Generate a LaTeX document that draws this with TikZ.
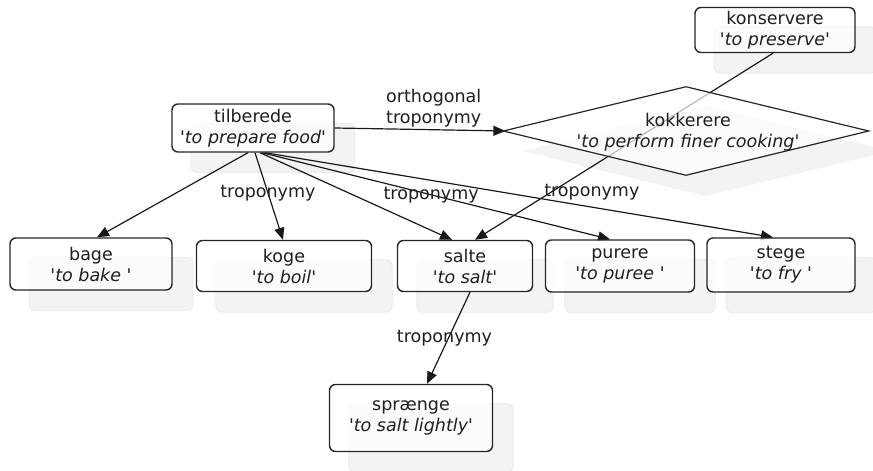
\documentclass[tikz,border=0pt]{standalone}
\usepackage{fontspec}
\setmainfont{DejaVu Sans}[Ligatures=TeXOff]
\usetikzlibrary{arrows.meta,shapes.geometric,calc}
\pgfdeclarelayer{shadowlayer}
\pgfdeclarelayer{edgelayer}
\pgfsetlayers{shadowlayer,edgelayer,main}
\definecolor{ink}{HTML}{1E1E1E}
\definecolor{shadowgrey}{HTML}{F3F3F3}
\definecolor{shadowedge}{HTML}{E8E8E8}
\begin{document}
\begin{tikzpicture}[x=1pt,y=-1pt,
  font=\fontsize{17.5}{21}\selectfont, text=ink,
  verb/.style={draw=black!85, line width=1.4pt, rounded corners=6pt,
    fill=white, fill opacity=0.75, text opacity=1, align=center, inner sep=0pt},
  rel/.style={draw=black!90, line width=1.2pt, -{Triangle[length=12pt,width=10pt]}},
  lbl/.style={inner sep=1pt, align=center},
  shadowfill/.style={fill=shadowgrey, draw=shadowedge, line width=0.8pt, rounded corners=6pt}]
\useasboundingbox (0,0) rectangle (873,471);

% verb nodes
\node[verb, minimum width=162pt, minimum height=48pt] (til) at (253,128)
  {tilberede\\{\itshape 'to prepare food'}};
\node[verb, minimum width=160pt, minimum height=45pt] (kons) at (775,30)
  {konservere\\{\itshape 'to preserve'}};
\node[verb, minimum width=162pt, minimum height=52pt] (bage) at (91,264)
  {bage\\{\itshape 'to bake '}};
\node[verb, minimum width=175pt, minimum height=51pt] (koge) at (284,266)
  {koge\\{\itshape 'to boil'}};
\node[verb, minimum width=135pt, minimum height=51pt] (salte) at (465,266)
  {salte\\{\itshape 'to salt'}};
\node[verb, minimum width=149pt, minimum height=52pt] (purere) at (620,266)
  {purere\\{\itshape 'to puree '}};
\node[verb, minimum width=148pt, minimum height=54pt] (stege) at (781,265)
  {stege\\{\itshape 'to fry '}};
\node[verb, minimum width=163pt, minimum height=67pt] (spr) at (411,418)
  {spr\ae nge\\{\itshape 'to salt lightly'}};

% the diamond concept and its text
\node[diamond, draw=black!85, line width=1.2pt, fill=white, fill opacity=0.7,
  minimum width=366pt, minimum height=89pt, inner sep=0pt] (kok) at (686,131) {};
\node[align=center, inner sep=0pt] (koktext) at (688,132)
  {kokkerere\\{\itshape 'to perform finer cooking'}};

% drop shadows
\begin{pgfonlayer}{shadowlayer}
  \foreach \n in {til,kons,bage,koge,salte,purere,stege,spr}{
    \path[shadowfill] ([shift={(20pt,-20pt)}]\n.south west) rectangle
      ([shift={(20pt,-20pt)}]\n.north east);
  }
  \fill[fill=shadowgrey] ([shift={(20pt,-20pt)}]kok.west) -- ([shift={(20pt,-20pt)}]kok.north)
    -- ([shift={(20pt,-20pt)}]kok.east) -- ([shift={(20pt,-20pt)}]kok.south) -- cycle;
\end{pgfonlayer}

% relations
\begin{pgfonlayer}{edgelayer}
  \draw[rel] ([xshift=-5pt]til.south) -- ([xshift=6pt]bage.north);
  \draw[rel] ([xshift=2pt]til.south) -- node[lbl, pos=0.46] (l1) {troponymy}
    ([xshift=-1pt]koge.north);
  \draw[rel] ([xshift=7pt]til.south) -- ([xshift=-13pt]salte.north);
  \draw[rel] ([xshift=9pt]til.south) -- node[lbl, pos=0.486] (l2) {troponymy}
    ([xshift=-10pt]purere.north);
  \draw[rel] ([xshift=12pt]til.south) -- ([xshift=-8pt]stege.north);
  \draw[rel] (til.east) -- node[lbl, pos=0.58, above=1pt] (l3) {orthogonal\\troponymy}
    ([xshift=3pt]kok.west);
  \draw[rel] ([xshift=-2pt]kons.south) -- node[lbl, pos=0.746, anchor=west, xshift=-8pt] (l4)
    {troponymy} ([xshift=10pt]salte.north);
  \draw[rel] ([xshift=5pt]salte.south) -- node[lbl, pos=0.5, xshift=-4pt] (l5) {troponymy}
    ([xshift=16pt]spr.north);
\end{pgfonlayer}
\end{tikzpicture}
\end{document}
